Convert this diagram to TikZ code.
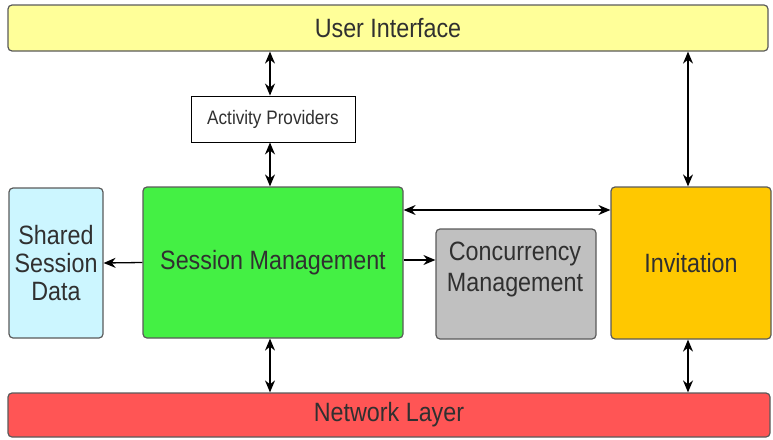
\documentclass[tikz,border=0pt]{standalone}
\usepackage{fontspec}
\setmainfont{Liberation Sans}[FakeStretch=0.88]
\usetikzlibrary{arrows.meta}
\definecolor{uiyellow}{HTML}{FFFF99}
\definecolor{ssdcyan}{HTML}{CCF6FF}
\definecolor{smgreen}{HTML}{44F044}
\definecolor{cmgray}{HTML}{C0C0C0}
\definecolor{invgold}{HTML}{FFC800}
\definecolor{netred}{HTML}{FF5555}
\definecolor{bordergray}{HTML}{5A5A5A}
\definecolor{txt}{HTML}{303030}
\tikzset{
  blk/.style={draw=bordergray, line width=1.2pt, rounded corners=4pt, inner sep=0pt,
    text=txt, align=center, font=\fontsize{26.5}{28}\selectfont},
  apbox/.style={draw=black, line width=0.9pt, fill=white, inner sep=0pt,
    text=txt, font=\fontsize{19.5}{23}\selectfont},
  conn/.style={line width=1.3pt, draw=black},
  bi/.style={conn, {Stealth[length=12pt,width=10pt]}-{Stealth[length=12pt,width=10pt]}},
  uni/.style={conn, -{Stealth[length=12pt,width=10pt]}}
}
\begin{document}
\begin{tikzpicture}[x=1pt,y=-1pt]
\useasboundingbox (0,0) rectangle (773,439);
\node[blk, fill=uiyellow, minimum width=760pt, minimum height=46pt] (UI) at (388,28) {User Interface};
\node[apbox, minimum width=164pt, minimum height=46pt] (AP) at (273,119) {Activity Providers};
\node[blk, fill=ssdcyan, minimum width=94pt, minimum height=150pt] (SSD) at (56,263) {Shared\\Session\\Data};
\node[blk, fill=smgreen, minimum width=260pt, minimum height=151pt] (SM) at (273,262.5) {Session Management};
\node[blk, fill=cmgray, minimum width=160pt, minimum height=110pt] (CM) at (516,284) {};
\node[text=txt, align=center, font=\fontsize{26.5}{31}\selectfont, inner sep=0pt] (CMT) at (515,269) {Concurrency\\Management};
\node[blk, fill=invgold, minimum width=160pt, minimum height=152pt] (INV) at (691,263) {Invitation};
\node[blk, fill=netred, minimum width=762pt, minimum height=44pt] (NET) at (389,415) {Network Layer};

\draw[bi] ([xshift=-3pt]AP.north) -- ([xshift=-3pt]AP.north |- UI.south);
\draw[bi] ([xshift=-3pt]AP.south) -- ([xshift=-3pt]AP.south |- SM.north);
\draw[bi] ([xshift=-3pt]INV.north) -- ([xshift=-3pt]INV.north |- UI.south);
\draw[uni] (SM.west) -- (SSD.east);
\draw[uni] ([yshift=2.5pt]SM.east) -- ([yshift=2.5pt]SM.east -| CM.west);
\draw[bi] ([yshift=52.5pt]SM.east) -- ([yshift=52.5pt]SM.east -| INV.west);
\draw[bi] ([xshift=-3pt]SM.south) -- ([xshift=-3pt]SM.south |- NET.north);
\draw[bi] ([xshift=-3pt]INV.south) -- ([xshift=-3pt]INV.south |- NET.north);
\end{tikzpicture}
\end{document}
